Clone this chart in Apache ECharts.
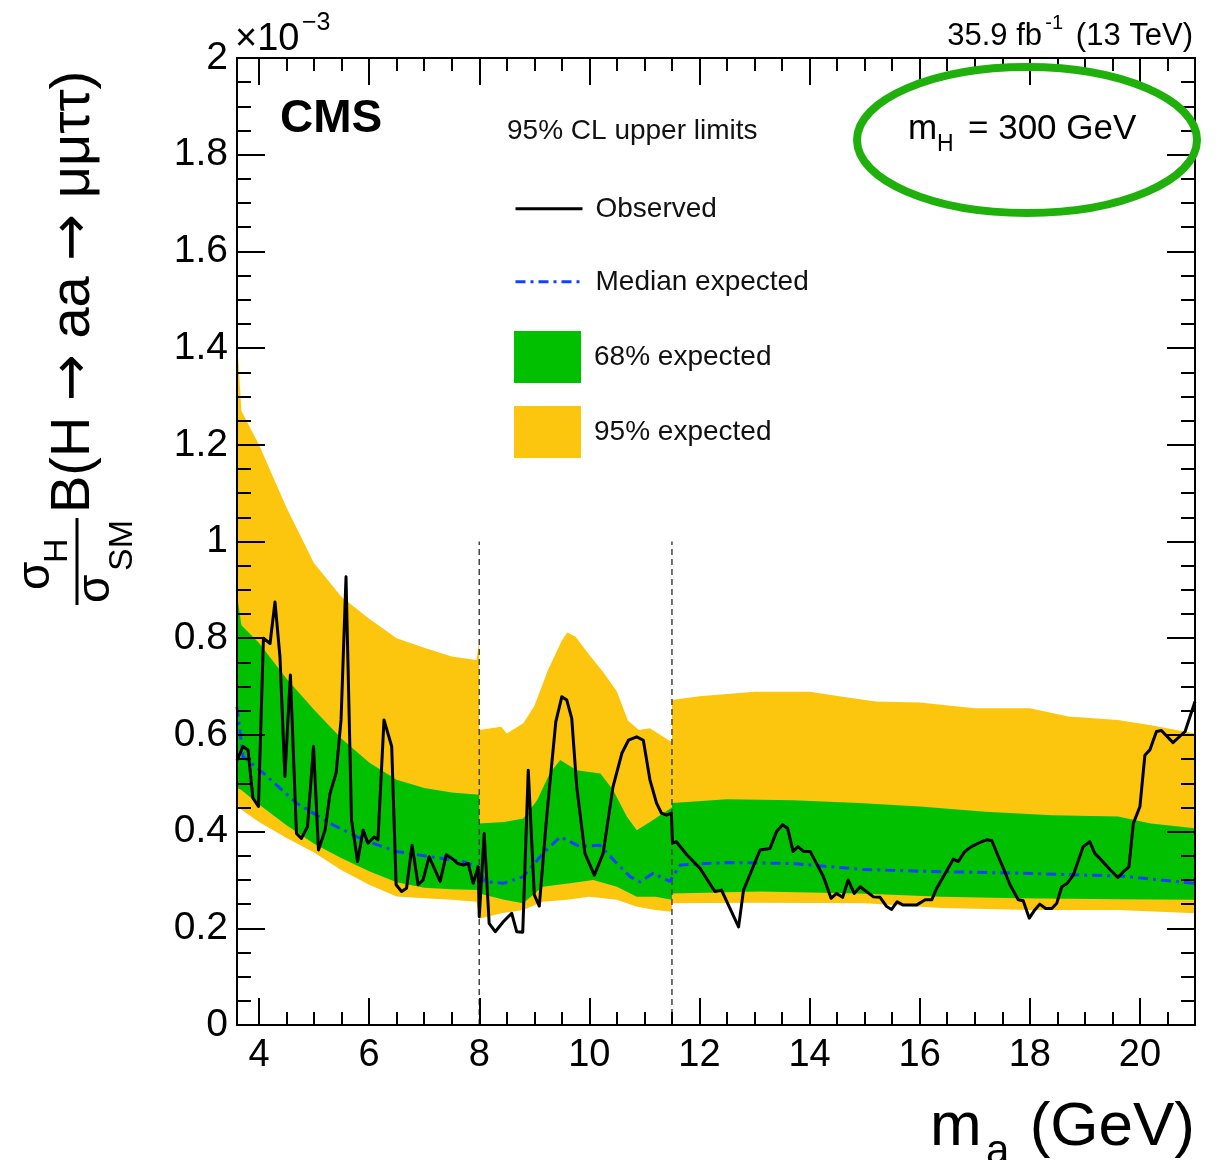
<!DOCTYPE html>
<html>
<head>
<meta charset="utf-8">
<script src="https://cdn.jsdelivr.net/npm/echarts@6/dist/echarts.min.js"></script>
<style>
html, body { margin: 0; padding: 0; background: #fff; }
#chart { width: 1224px; height: 1160px; }
</style>
</head>
<body>
<div id="chart"></div>
<script>
// observed limit, [m_a, limit x 1e3]
var observed = [
  [3.60,0.548],[3.71,0.576],[3.80,0.569],[3.89,0.469],[3.99,0.452],[4.08,0.800],[4.20,0.789],[4.29,0.875],
  [4.38,0.762],[4.47,0.514],[4.57,0.724],[4.68,0.396],[4.77,0.386],[4.88,0.410],[4.99,0.576],[5.08,0.362],
  [5.20,0.403],[5.29,0.479],[5.40,0.521],[5.49,0.631],[5.58,0.927],[5.68,0.424],[5.79,0.338],[5.89,0.403],
  [5.98,0.376],[6.09,0.389],[6.16,0.383],[6.27,0.631],[6.41,0.576],[6.49,0.290],[6.59,0.276],[6.68,0.283],
  [6.78,0.372],[6.89,0.290],[6.98,0.300],[7.09,0.348],[7.29,0.297],[7.40,0.352],[7.50,0.345],[7.61,0.334],
  [7.71,0.331],[7.80,0.334],[7.89,0.293],[7.98,0.327],[8.00,0.224],[8.09,0.396],[8.18,0.210],[8.29,0.193],
  [8.44,0.214],[8.59,0.231],[8.68,0.193],[8.79,0.192],[8.89,0.527],[9.00,0.269],[9.09,0.246],[9.22,0.424],
  [9.39,0.627],[9.50,0.679],[9.59,0.672],[9.68,0.634],[9.77,0.493],[9.92,0.355],[10.09,0.310],[10.25,0.355],
  [10.43,0.493],[10.59,0.562],[10.71,0.589],[10.86,0.596],[10.98,0.589],[11.10,0.507],[11.22,0.459],[11.31,0.438],
  [11.40,0.434],[11.49,0.438],[11.51,0.376],[11.58,0.379],[11.77,0.352],[12.01,0.324],[12.28,0.276],[12.40,0.279],
  [12.71,0.203],[12.80,0.279],[13.10,0.362],[13.28,0.365],[13.40,0.400],[13.51,0.414],[13.60,0.407],[13.70,0.359],
  [13.79,0.369],[13.89,0.359],[14.01,0.359],[14.25,0.307],[14.39,0.262],[14.49,0.272],[14.60,0.264],[14.70,0.300],
  [14.81,0.272],[14.92,0.286],[15.16,0.265],[15.28,0.264],[15.40,0.245],[15.49,0.239],[15.59,0.255],[15.70,0.248],
  [15.94,0.248],[16.10,0.259],[16.22,0.259],[16.31,0.283],[16.61,0.343],[16.70,0.338],[16.82,0.359],[16.94,0.369],
  [17.12,0.379],[17.22,0.383],[17.31,0.381],[17.43,0.348],[17.52,0.324],[17.64,0.290],[17.79,0.259],[17.88,0.257],
  [17.99,0.221],[18.09,0.238],[18.18,0.250],[18.29,0.241],[18.40,0.241],[18.49,0.252],[18.58,0.286],[18.67,0.292],
  [18.79,0.310],[18.97,0.369],[19.09,0.379],[19.18,0.355],[19.30,0.341],[19.46,0.321],[19.60,0.305],[19.70,0.317],
  [19.80,0.327],[19.88,0.417],[20.00,0.452],[20.09,0.558],[20.18,0.569],[20.30,0.607],[20.39,0.609],[20.60,0.584],
  [20.82,0.607],[21.00,0.669]
];

// median expected
var median = [
  [3.60,0.658],[3.71,0.555],[4.08,0.521],[4.68,0.459],[5.29,0.417],[5.89,0.383],[6.50,0.359],[7.11,0.348],
  [7.71,0.338],[7.98,0.327],[8.09,0.297],[8.44,0.293],[8.80,0.307],[9.16,0.355],[9.47,0.389],[9.83,0.369],
  [10.19,0.372],[10.50,0.334],[10.74,0.307],[10.92,0.296],[11.16,0.314],[11.46,0.297],[11.65,0.331],[12.49,0.336],
  [13.70,0.334],[14.92,0.322],[16.00,0.318],[17.82,0.314],[19.64,0.308],[20.36,0.300],[21.00,0.293]
];

// 95% band edges
var up95 = [
  [3.60,1.42],[3.68,1.27],[4.0,1.20],[4.5,1.07],[5.0,0.955],[5.5,0.885],[6.0,0.84],[6.5,0.80],[7.0,0.78],
  [7.5,0.762],[7.95,0.755],[8.0,0.795],[8.0,0.61],[8.4,0.617],[8.5,0.603],[8.8,0.624],[9.0,0.66],[9.25,0.735],
  [9.5,0.795],[9.6,0.812],[9.75,0.803],[10.0,0.765],[10.25,0.73],[10.5,0.69],[10.7,0.63],[10.9,0.61],[11.1,0.614],
  [11.5,0.585],[11.5,0.672],[12.0,0.68],[13.0,0.689],[14.0,0.689],[14.6,0.679],[15.2,0.669],[16.0,0.667],
  [17.0,0.655],[18.0,0.655],[18.7,0.638],[19.6,0.631],[20.2,0.62],[21.0,0.603]
];
var dn95 = [
  [3.60,0.455],[3.68,0.445],[4.0,0.42],[4.5,0.387],[5.0,0.357],[5.5,0.32],[6.0,0.29],[6.5,0.266],[7.0,0.262],
  [7.5,0.259],[7.95,0.255],[8.0,0.22],[8.4,0.231],[8.8,0.238],[9.15,0.255],[9.6,0.259],[10.0,0.265],[10.5,0.259],
  [10.85,0.245],[11.2,0.238],[11.5,0.234],[11.5,0.252],[13.0,0.253],[15.0,0.252],[16.4,0.242],[18.0,0.238],
  [19.6,0.238],[21.0,0.231]
];

// 68% band edges
var up68 = [
  [3.60,0.89],[3.68,0.827],[4.0,0.79],[4.5,0.716],[5.0,0.652],[5.5,0.592],[6.0,0.543],[6.5,0.507],[7.0,0.49],
  [7.5,0.481],[8.0,0.476],[8.0,0.417],[8.45,0.42],[8.8,0.427],[9.05,0.465],[9.28,0.52],[9.47,0.548],[9.77,0.527],
  [10.2,0.52],[10.43,0.486],[10.68,0.431],[10.86,0.403],[11.1,0.42],[11.5,0.45],[11.5,0.459],[12.5,0.467],
  [13.7,0.465],[14.9,0.459],[16.0,0.452],[17.2,0.441],[18.4,0.434],[19.6,0.431],[20.2,0.417],[21.0,0.407]
];
var dn68 = [
  [3.60,0.49],[3.68,0.486],[4.0,0.456],[4.5,0.413],[5.0,0.375],[5.5,0.345],[6.0,0.318],[6.5,0.295],[7.0,0.284],
  [7.5,0.281],[8.0,0.279],[8.0,0.272],[8.45,0.259],[8.8,0.252],[9.15,0.286],[9.65,0.293],[10.07,0.30],[10.5,0.286],
  [10.86,0.265],[11.2,0.265],[11.5,0.259],[11.5,0.272],[13.1,0.276],[14.9,0.272],[16.4,0.265],[17.8,0.262],
  [19.6,0.26],[21.0,0.259]
];

// region boundaries (dashed)
var boundaries = [8, 11.5];
var boundaryTop = 1.0;

var majorX = [4, 6, 8, 10, 12, 14, 16, 18, 20];
var minorX = [4.5, 5, 5.5, 6.5, 7, 7.5, 8.5, 9, 9.5, 10.5, 11, 11.5, 12.5, 13, 13.5,
              14.5, 15, 15.5, 16.5, 17, 17.5, 18.5, 19, 19.5, 20.5];

var FONT = '"Liberation Sans", Arial, Helvetica, sans-serif';
var YELLOW = '#fcc60f';
var GREEN = '#00c000';
var BLUE = '#1540ff';

function band(name, color, upper, lower) {
  var pts = upper.concat(lower.slice().reverse());
  return {
    type: 'custom',
    name: name,
    silent: true,
    itemStyle: { color: color },
    data: pts,
    renderItem: function (params, api) {
      if (params.dataIndex !== 0) return;
      return {
        type: 'polygon',
        shape: { points: pts.map(function (p) { return api.coord(p); }) },
        style: { fill: color }
      };
    }
  };
}

function xAxisDef(pos, ticks, len, withLabel, withLine) {
  return {
    type: 'value', position: pos, min: 3.6, max: 21, z: 10,
    axisLine: { show: withLine, onZero: false, lineStyle: { color: '#000', width: 2 } },
    axisTick: { show: true, inside: true, length: len, customValues: ticks, lineStyle: { color: '#000', width: 2 } },
    axisLabel: { show: withLabel, customValues: ticks, fontSize: 38, fontFamily: FONT, color: '#000', margin: 12 },
    splitLine: { show: false }
  };
}

function yAxisDef(pos, withLabel) {
  return {
    type: 'value', position: pos, min: 0, max: 2, interval: 0.2, z: 10,
    axisLine: { show: true, onZero: false, lineStyle: { color: '#000', width: 2 } },
    axisTick: { show: true, inside: true, length: 28, lineStyle: { color: '#000', width: 2 } },
    minorTick: { show: true, splitNumber: 4, length: 14, lineStyle: { color: '#000', width: 2 } },
    axisLabel: { show: withLabel, fontSize: 39, fontFamily: FONT, color: '#000', margin: 9 },
    splitLine: { show: false }
  };
}

function boundarySeries(m) {
  return {
    type: 'line', silent: true, symbol: 'none',
    data: [[m, 0], [m, boundaryTop]],
    lineStyle: { color: '#444', width: 1.5, type: [6, 4] },
    z: 4
  };
}

function legendEntry(top, item) {
  return {
    left: 514, top: top, orient: 'vertical', padding: 0,
    itemWidth: 67, itemHeight: 52,
    selectedMode: false,
    textStyle: { fontSize: 28, fontFamily: FONT, color: '#111', padding: [0, 0, 0, 8] },
    data: [item]
  };
}

var chart = echarts.init(document.getElementById('chart'));
chart.setOption({
  animation: false,
  backgroundColor: '#fff',
  grid: { left: 237, right: 29, top: 58, bottom: 135, outerBoundsMode: 'none' },
  xAxis: [
    xAxisDef('bottom', majorX, 27, true, true),
    xAxisDef('bottom', minorX, 13, false, false),
    xAxisDef('top', majorX, 27, false, true),
    xAxisDef('top', minorX, 13, false, false)
  ],
  yAxis: [yAxisDef('left', true), yAxisDef('right', false)],
  legend: [
    legendEntry(188, { name: 'Observed', itemStyle: { opacity: 0 }, lineStyle: { width: 3 } }),
    legendEntry(261, { name: 'Median expected', itemStyle: { opacity: 0 }, lineStyle: { width: 3 } }),
    legendEntry(331, { name: '68% expected', icon: 'rect' }),
    legendEntry(406, { name: '95% expected', icon: 'rect' })
  ],
  series: [
    band('95% expected', YELLOW, up95, dn95),
    band('68% expected', GREEN, up68, dn68),
    boundarySeries(boundaries[0]),
    boundarySeries(boundaries[1]),
    {
      type: 'line', name: 'Median expected', symbol: 'none', silent: true,
      data: median, z: 5,
      lineStyle: { color: BLUE, width: 3, type: [10, 5, 3, 5] },
      itemStyle: { color: BLUE }
    },
    {
      type: 'line', name: 'Observed', symbol: 'none', silent: true,
      data: observed, z: 6,
      lineStyle: { color: '#000', width: 3, join: 'round' },
      itemStyle: { color: '#000' }
    }
  ],
  graphic: [
    { type: 'text', x: 280, y: 119, z: 20,
      style: { text: 'CMS', fontSize: 46, fontWeight: 'bold', fontFamily: FONT, fill: '#000', verticalAlign: 'middle' } },
    { type: 'text', x: 507, y: 131, z: 20,
      style: { text: '95% CL upper limits', fontSize: 28, fontFamily: FONT, fill: '#111', verticalAlign: 'middle' } },
    // luminosity label
    { type: 'text', x: 1193, y: 36, z: 20,
      style: { text: '(13 TeV)', fontSize: 31, fontFamily: FONT, fill: '#000', align: 'right', verticalAlign: 'middle' } },
    { type: 'text', x: 1063, y: 23, z: 20,
      style: { text: '-1', fontSize: 20, fontFamily: FONT, fill: '#000', align: 'right', verticalAlign: 'middle' } },
    { type: 'text', x: 1042, y: 36, z: 20,
      style: { text: '35.9 fb', fontSize: 31, fontFamily: FONT, fill: '#000', align: 'right', verticalAlign: 'middle' } },
    // exponent
    { type: 'text', x: 235, y: 40, z: 20,
      style: { text: '×10', fontSize: 38, fontFamily: FONT, fill: '#000', verticalAlign: 'middle' } },
    { type: 'text', x: 302, y: 23, z: 20,
      style: { text: '−3', fontSize: 25, fontFamily: FONT, fill: '#000', verticalAlign: 'middle' } },
    // mH label with ellipse
    { type: 'text', x: 908, y: 129, z: 20,
      style: { text: 'm', fontSize: 35, fontFamily: FONT, fill: '#000', verticalAlign: 'middle' } },
    { type: 'text', x: 937, y: 145, z: 20,
      style: { text: 'H', fontSize: 23, fontFamily: FONT, fill: '#000', verticalAlign: 'middle' } },
    { type: 'text', x: 968, y: 129, z: 20,
      style: { text: '= 300 GeV', fontSize: 35, fontFamily: FONT, fill: '#000', verticalAlign: 'middle' } },
    { type: 'ellipse', z: 21, shape: { cx: 1027, cy: 140, rx: 170, ry: 73 },
      style: { fill: 'none', stroke: '#1fb00c', lineWidth: 8 } },
    // x axis title
    { type: 'text', x: 930, y: 1128, z: 20,
      style: { text: 'm', fontSize: 62, fontFamily: FONT, fill: '#000', verticalAlign: 'middle' } },
    { type: 'text', x: 986, y: 1152, z: 20,
      style: { text: 'a', fontSize: 42, fontFamily: FONT, fill: '#000', verticalAlign: 'middle' } },
    { type: 'text', x: 1195, y: 1128, z: 20,
      style: { text: '(GeV)', fontSize: 62, fontFamily: FONT, fill: '#000', align: 'right', verticalAlign: 'middle' } },
    // y axis title (rotated)
    { type: 'group', x: 77, y: 607, rotation: Math.PI / 2, z: 20,
      children: [
        { type: 'line', shape: { x1: 2, y1: 0, x2: 89, y2: 0 }, style: { stroke: '#000', lineWidth: 3 } },
        { type: 'text', x: 17, y: -41, style: { text: 'σ', fontSize: 46, fontFamily: FONT, fill: '#000', verticalAlign: 'middle' } },
        { type: 'text', x: 44, y: -19, style: { text: 'H', fontSize: 34, fontFamily: FONT, fill: '#000', verticalAlign: 'middle' } },
        { type: 'text', x: 4, y: 19, style: { text: 'σ', fontSize: 46, fontFamily: FONT, fill: '#000', verticalAlign: 'middle' } },
        { type: 'text', x: 36, y: 46, style: { text: 'SM', fontSize: 34, fontFamily: FONT, fill: '#000', verticalAlign: 'middle' } },
        { type: 'text', x: 94, y: -3, style: {
            text: '{t|B(H }{a|→}{t| aa }{a|→}{t| μμττ)}', verticalAlign: 'middle', fill: '#000',
            rich: {
              t: { fontSize: 56, fontFamily: FONT, fill: '#000' },
              a: { fontSize: 56, fontFamily: '"DejaVu Sans"', fill: '#000' }
            }
        } }
      ]
    }
  ]
});
</script>
</body>
</html>
